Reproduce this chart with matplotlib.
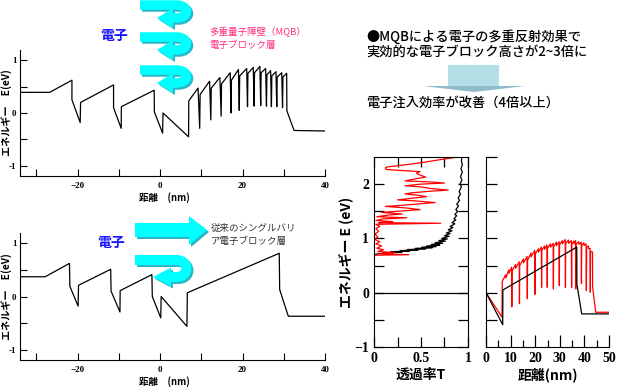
import numpy as np
import matplotlib
matplotlib.use('Agg')
import matplotlib.pyplot as plt
from matplotlib.path import Path
from matplotlib.patches import PathPatch, Polygon

# ---------------- data ----------------
# top-left: band profile with MQB electron-blocking layer (distance nm, energy eV)
mqb_x = [-34, -26.8, -21.4, -21.4, -19.4, -19.3, -11.3, -11.3, -9.45, -9.4, -1.45, -1.4, 0.6, 0.7,
         6.9, 6.95, 9.2, 9.6, 9.7, 12.0, 12.3, 12.4, 14.5, 14.8, 14.9, 17.0, 17.2, 17.3,
         19.0, 19.2, 19.3, 21.0, 21.2, 21.3, 22.6, 22.8, 22.9, 24.2, 24.4, 24.5, 25.6, 25.8, 25.9,
         26.8, 27.0, 27.1, 28.1, 28.3, 28.4, 29.5, 29.7, 29.8, 30.7, 30.75, 32.5, 40]
mqb_e = [0.39, 0.39, 0.62, 0.25, -0.18, 0.20, 0.53, 0.10, -0.29, 0.12, 0.43, 0.02, -0.38, 0.0,
         -0.45, 0.23, 0.47, -0.29, 0.35, 0.60, -0.13, 0.47, 0.67, -0.06, 0.55, 0.76, 0.0, 0.62,
         0.82, 0.05, 0.70, 0.84, 0.12, 0.75, 0.86, 0.13, 0.76, 0.88, 0.14, 0.76, 0.84, 0.13, 0.72,
         0.80, 0.12, 0.70, 0.78, 0.12, 0.68, 0.76, 0.10, 0.68, 0.75, 0.04, -0.33, -0.34]

# bottom-left: band profile with conventional single-barrier EBL
sb_x = [-34, -27.9, -22.0, -21.9, -19.9, -19.8, -12.0, -11.9, -9.75, -9.7, -2.0, -1.9, 0.15, 0.25,
        6.5, 6.6, 28.9, 29.0, 31.1, 40]
sb_e = [0.37, 0.37, 0.62, 0.19, -0.18, 0.21, 0.51, 0.10, -0.29, 0.11, 0.41, 0.0, -0.40, 0.0,
        -0.56, 0.07, 0.81, 0.13, -0.37, -0.37]

# right: conduction band, conventional (black)
conv_x = [0, 6.8, 6.85, 36.9, 36.95, 38.9, 50]
conv_e = [0, -0.59, 0.05, 0.84, 0.16, -0.39, -0.39]

# right: conduction band, MQB (red)
red_x = [0, 6.5, 6.6, 8.0, 8.05, 9.3, 9.35, 10.4, 10.5, 10.6,
         12.0, 12.05, 13.5, 13.6, 13.7, 15.2, 15.25, 16.7, 16.8, 16.9,
         18.3, 18.35, 19.8, 19.9, 20.0, 21.3, 21.35, 22.5, 22.6, 22.7,
         23.8, 23.85, 24.8, 24.9, 25.0, 26.2, 26.25, 27.3, 27.4, 27.5,
         28.6, 28.65, 29.7, 29.8, 29.9, 31.0, 31.05, 32.2, 32.3, 32.4,
         33.5, 33.55, 34.7, 34.8, 34.9, 35.7, 35.75, 36.4, 36.5, 36.6,
         37.7, 37.75, 38.7, 38.8, 38.9, 39.8, 39.85, 40.7, 40.8, 40.9,
         41.6, 41.65, 42.3, 42.4, 42.5, 43.3, 43.35, 44.6, 50]
red_e = [0, -0.45, 0.21, 0.33, 0.27, 0.42, 0.36, 0.47, -0.26, 0.40,
         0.52, 0.45, 0.57, -0.20, 0.50, 0.62, 0.55, 0.67, -0.11, 0.60,
         0.73, 0.66, 0.78, -0.03, 0.71, 0.81, 0.75, 0.84, 0.10, 0.78,
         0.86, 0.80, 0.88, 0.10, 0.82, 0.90, 0.84, 0.91, 0.07, 0.85,
         0.93, 0.87, 0.94, 0.13, 0.88, 0.96, 0.90, 0.98, 0.10, 0.91,
         0.97, 0.91, 0.96, 0.10, 0.90, 0.95, 0.90, 0.96, 0.07, 0.90,
         0.94, 0.89, 0.93, 0.17, 0.87, 0.92, 0.87, 0.90, 0.04, 0.84,
         0.86, 0.81, 0.82, 0.01, 0.76, 0.75, 0.10, -0.36, -0.36]

# transmission: conventional (black), energy (eV) vs transmittance
tc_E = [0.70, 0.72, 0.73, 0.735, 0.75, 0.755, 0.77, 0.775, 0.79, 0.795, 0.81, 0.815, 0.83, 0.835,
        0.85, 0.86, 0.88, 0.89, 0.91, 0.92, 0.95, 0.96, 0.99, 1.00, 1.04, 1.05, 1.09, 1.10,
        1.14, 1.16, 1.20, 1.22, 1.27, 1.29, 1.34, 1.36, 1.42, 1.44, 1.50, 1.53, 1.60, 1.63,
        1.70, 1.74, 1.82, 1.86, 1.95, 2.00, 2.08, 2.14, 2.22, 2.28, 2.36, 2.42, 2.50]
tc_T = [0.0, 0.05, 0.20, 0.10, 0.30, 0.18, 0.38, 0.28, 0.47, 0.36, 0.55, 0.44, 0.62, 0.51,
        0.66, 0.56, 0.70, 0.61, 0.73, 0.65, 0.76, 0.69, 0.78, 0.72, 0.80, 0.75, 0.81, 0.77,
        0.83, 0.79, 0.84, 0.81, 0.86, 0.83, 0.87, 0.85, 0.88, 0.86, 0.89, 0.87, 0.90, 0.88,
        0.91, 0.895, 0.92, 0.905, 0.93, 0.915, 0.935, 0.92, 0.94, 0.925, 0.94, 0.93, 0.935]

# transmission: MQB (red)
tm_E = [0.69, 0.70, 0.72, 0.74, 0.76, 0.79, 0.82, 0.86, 0.90, 0.94, 0.98, 1.03, 1.08, 1.13,
        1.18, 1.22, 1.26, 1.28, 1.29, 1.31, 1.33, 1.36, 1.38, 1.40, 1.43, 1.45, 1.48, 1.50,
        1.53, 1.56, 1.59, 1.61, 1.64, 1.66, 1.69, 1.71, 1.74, 1.77, 1.80, 1.82, 1.84, 1.87,
        1.89, 1.92, 1.95, 1.97, 2.00, 2.02, 2.04, 2.06, 2.10, 2.13, 2.16, 2.20, 2.23, 2.25,
        2.27, 2.30, 2.32, 2.36, 2.40, 2.45, 2.50]
tm_T = [0.0, 0.37, 0.06, 0.22, 0.04, 0.10, 0.03, 0.08, 0.02, 0.06, 0.01, 0.04, 0.01, 0.05,
        0.02, 0.06, 0.02, 0.71, 0.05, 0.20, 0.02, 0.10, 0.35, 0.03, 0.15, 0.30, 0.08, 0.25,
        0.49, 0.35, 0.12, 0.30, 0.50, 0.65, 0.45, 0.25, 0.40, 0.56, 0.45, 0.33, 0.40, 0.60,
        0.79, 0.60, 0.50, 0.33, 0.50, 0.75, 0.60, 0.33, 0.45, 0.55, 0.50, 0.45, 0.49, 0.30,
        0.13, 0.12, 0.15, 0.35, 0.52, 0.70, 0.89]

# ---------------- figure ----------------
W, H = 617, 387
fig = plt.figure(figsize=(W / 100, H / 100), dpi=100)
fig.patch.set_facecolor('white')

JP = ['Noto Sans CJK JP', 'DejaVu Sans']
SERIF = 'Liberation Serif'


def ax_px(x0, y0, x1, y1):
    return fig.add_axes([x0 / W, 1 - y1 / H, (x1 - x0) / W, (y1 - y0) / H])


def style_left(ax):
    for s in ('top', 'right'):
        ax.spines[s].set_visible(False)
    ax.set_xlim(-34, 40)
    ax.set_ylim(-1.19, 1.19)
    ax.set_xticks([-20, 0, 20, 40])
    ax.set_xticks([-30, -10, 10, 30], minor=True)
    ax.set_yticks([-1, 0, 1])
    ax.set_yticks([-0.5, 0.5], minor=True)
    ax.tick_params(which='both', direction='in', length=5, width=0.8, labelsize=6.5)
    ax.tick_params(axis='x', pad=4)
    ax.tick_params(axis='y', pad=2.5)
    ax.set_yticklabels(['-1', '0', '1'])
    for lab in ax.get_xticklabels() + ax.get_yticklabels():
        lab.set_fontfamily(SERIF)
        lab.set_fontweight('bold')
    ax.set_ylabel('エネルギー　E(eV)', family=JP, fontsize=7.3, fontweight='bold')
    ax.yaxis.set_label_coords(-0.027, 0.5)
    ax.set_xlabel('距離　(nm)', family=JP, fontsize=6.8, fontweight='bold')
    ax.xaxis.set_label_coords(0.472, -0.125)
    ax.patch.set_alpha(0)


ax1 = ax_px(20, 50, 325, 176)
ax1.plot(mqb_x, mqb_e, color='black', lw=0.9)
style_left(ax1)

ax2 = ax_px(20, 233, 325, 360)
ax2.plot(sb_x, sb_e, color='black', lw=0.9)
style_left(ax2)

# transmission panel
ax3 = ax_px(374, 157, 468, 347)
ax3.plot(tc_T, tc_E, color='black', lw=0.9)
ax3.plot(tm_T, tm_E, color='red', lw=0.9)
ax3.axhline(0, color='black', lw=0.9)
ax3.set_xlim(0, 1)
ax3.set_ylim(-1, 2.5)
ax3.set_xticks([0, 0.5, 1])
ax3.set_xticklabels(['0', '0.5', '1'])
ax3.set_xticks([0.25, 0.75], minor=True)
ax3.set_yticks([-1, 0, 1, 2])
ax3.set_yticks([-0.5, 0.5, 1.5], minor=True)
ax3.tick_params(which='both', direction='in', length=7, width=0.9, top=True, right=True,
                labelsize=10)
ax3.tick_params(which='minor', length=7)
for lab in ax3.get_xticklabels() + ax3.get_yticklabels():
    lab.set_fontfamily(SERIF)
    lab.set_fontweight('bold')
ax3.set_xlabel('透過率T', family=JP, fontsize=10, fontweight='bold', labelpad=2)
ax3.set_ylabel('エネルギー E (eV)', family=JP, fontsize=10, fontweight='bold', labelpad=1)

# band panel right
ax4 = ax_px(486, 157, 609, 347)
ax4.plot(red_x, red_e, color='red', lw=0.9)
ax4.plot(conv_x, conv_e, color='black', lw=0.9)
ax4.set_xlim(0, 50)
ax4.set_ylim(-1, 2.5)
for s in ('top', 'right'):
    ax4.spines[s].set_visible(False)
ax4.set_xticks([0, 10, 20, 30, 40, 50])
ax4.set_xticks([5, 15, 25, 35, 45], minor=True)
ax4.set_yticks([-0.5, 0, 0.5, 1, 1.5, 2, 2.5])
ax4.set_yticklabels([])
ax4.tick_params(which='both', direction='in', width=0.9, labelsize=10)
ax4.tick_params(axis='y', length=8)
ax4.tick_params(axis='x', which='major', length=9)
ax4.tick_params(axis='x', which='minor', length=5)
for lab in ax4.get_xticklabels():
    lab.set_fontfamily(SERIF)
    lab.set_fontweight('bold')
ax4.set_xlabel('距離(nm)', family=JP, fontsize=10, fontweight='bold', labelpad=2)

# ---------------- overlay annotations (pixel coords) ----------------
ov = fig.add_axes([0, 0, 1, 1])
ov.set_xlim(0, W)
ov.set_ylim(H, 0)
ov.axis('off')
ov.patch.set_alpha(0)

CYAN = '#00ffff'
CSHADE = '#2bb5c8'


def uturn(x0, y0, xr, sep, lw_px, tip_x, head_h, head_len):
    yc1 = y0
    yc2 = y0 + sep
    for dx, dy, col, z in ((2, 2, CSHADE, 5), (0, 0, CYAN, 6)):
        verts = [(x0 + dx, yc1 + dy), (xr - 10 + dx, yc1 + dy),
                 (xr + 4 + dx, yc1 + dy), (xr + 4 + dx, yc2 + dy), (xr - 10 + dx, yc2 + dy),
                 (tip_x + head_len - 1 + dx, yc2 + dy)]
        codes = [Path.MOVETO, Path.LINETO, Path.CURVE4, Path.CURVE4, Path.CURVE4, Path.LINETO]
        ov.add_patch(PathPatch(Path(verts, codes), fill=False, edgecolor=col,
                               lw=lw_px * 0.72, capstyle='butt', joinstyle='round', zorder=z))
        ov.add_patch(Polygon([(tip_x + dx, yc2 + dy), (tip_x + head_len + dx, yc2 - head_h / 2 + dy),
                              (tip_x + head_len + dx, yc2 + head_h / 2 + dy)],
                             closed=True, facecolor=col, edgecolor='none', zorder=z))


for y0 in (5, 37, 70):
    uturn(140, y0, 186, 13, 9.5, 157, 20, 16)
uturn(135, 260, 186, 17, 10, 153, 19, 18)

# straight arrow (bottom)
for dx, dy, col, z in ((2, 2, CSHADE, 5), (0, 0, CYAN, 6)):
    ov.add_patch(Polygon([(135 + dx, 223 + dy), (189 + dx, 223 + dy), (189 + dx, 216 + dy),
                          (207 + dx, 230 + dy), (189 + dx, 245 + dy), (189 + dx, 237 + dy),
                          (135 + dx, 237 + dy)], closed=True, facecolor=col, edgecolor='none',
                         zorder=z))

# texts
ov.text(114, 36, '電子', family=JP, fontsize=10, fontweight='bold', color='#1515ff',
        ha='center', va='center')
ov.text(111, 243, '電子', family=JP, fontsize=10, fontweight='bold', color='#1515ff',
        ha='center', va='center')
ov.text(209, 32, '多重量子障壁（MQB）', family=JP, fontsize=6.8, color='#ff2e7e',
        ha='left', va='center')
ov.text(209, 45.5, '電子ブロック層', family=JP, fontsize=6.8, color='#ff2e7e',
        ha='left', va='center')
ov.text(211, 228, '従来のシングルバリ', family=JP, fontsize=6.8, color='#333333',
        ha='left', va='center')
ov.text(211, 241.5, 'ア電子ブロック層', family=JP, fontsize=6.8, color='#333333',
        ha='left', va='center')

ov.text(366, 37, '●MQBによる電子の多重反射効果で', family=JP, fontsize=9.5, color='black',
        ha='left', va='center', fontweight='medium')
ov.text(366, 52, '実効的な電子ブロック高さが2~3倍に', family=JP, fontsize=9.5, color='black',
        ha='left', va='center', fontweight='medium')
ov.text(366, 103, '電子注入効率が改善（4倍以上）', family=JP, fontsize=9.5, color='black',
        ha='left', va='center', fontweight='medium')

# down arrow (top right)
ov.add_patch(Polygon([(448, 65), (499, 65), (499, 86), (448, 86)], closed=True,
                     facecolor='#b5dfe6', edgecolor='none', zorder=5))
ov.add_patch(Polygon([(423, 86), (525, 86), (474, 92)], closed=True,
                     facecolor='#8fbccb', edgecolor='none', zorder=5))

fig.savefig('out.png', dpi=100, facecolor='white')
